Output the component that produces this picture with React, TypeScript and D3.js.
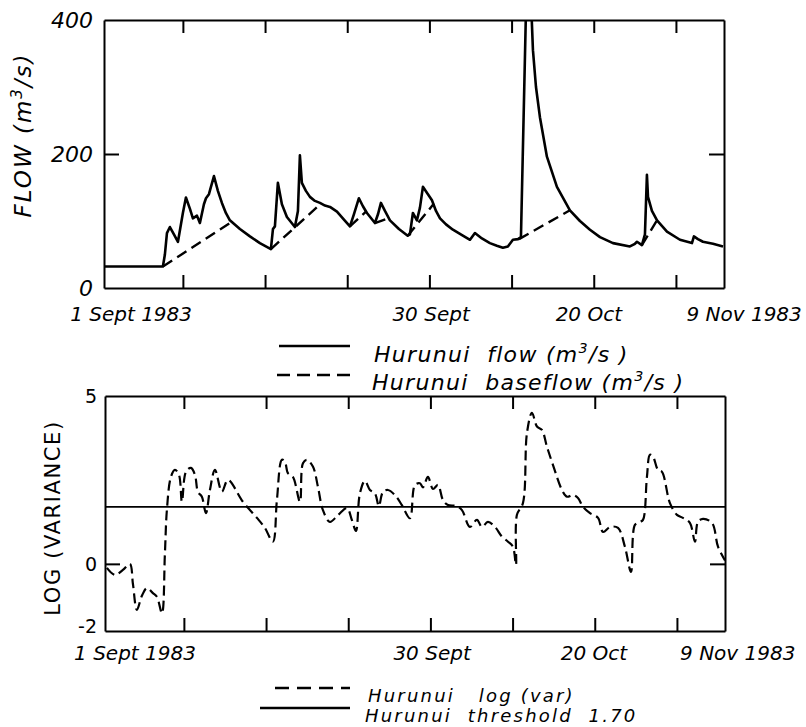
import * as d3 from 'd3';
import React, { useRef, useEffect } from 'react';

const W = 806;
const H = 727;

// x axis in days counted from 1 Sept 1983
const dayDomain = [0.4, 75.85];
const gridDays = [10, 20, 30, 40, 50, 60, 70];
const dateLabels = ['1 Sept 1983', '30 Sept', '20 Oct', '9 Nov 1983'];
const flowLabelDays = [3.7, 40.2, 59.4, 78.3];
const varLabelDays = [4.05, 40.2, 59.9, 77.4];

const flowTickLabels = [0, 200, 400];
const varTickLabels = [-2, 0, 5];

// Hurunui flow (m3/s)
const flowDays = [
  0.39, 7.57, 7.81, 8.06, 8.42, 8.91, 9.4, 10.0, 10.37, 10.86, 11.22, 11.71, 12.07, 12.56, 12.81, 13.17,
  13.78, 14.26, 14.75, 15.23, 15.72, 16.94, 18.16, 19.37, 20.71, 20.96, 21.2, 21.56, 22.05, 22.66, 23.63,
  24.0, 24.24, 24.48, 24.97, 25.46, 26.07, 26.68, 27.29, 27.9, 28.75, 29.6, 30.33, 30.81, 31.42, 31.91,
  32.4, 33.37, 33.74, 34.1, 34.59, 35.2, 36.29, 37.36, 37.63, 37.99, 38.48, 38.85, 39.21, 39.82, 40.31,
  40.8, 41.29, 42.02, 42.86, 43.97, 44.94, 45.54, 46.39, 47.36, 48.21, 48.94, 49.55, 50.16, 50.78, 51.14,
  51.87, 52.36, 52.6, 52.97, 53.45, 54.3, 55.52, 57.1, 58.32, 59.54, 60.76, 62.34, 64.4, 65.01, 65.26,
  65.86, 66.23, 66.47, 66.6, 67.08, 67.7, 68.91, 70.49, 71.95, 72.19, 72.68, 73.29, 74.51, 75.73,
];
const flowValues = [
  32, 32, 50, 82, 91, 80, 69, 112, 135, 118, 104, 108, 97, 125, 134, 140,
  167, 145, 127, 112, 101, 88, 77, 67, 58, 88, 92, 157, 125, 106, 91,
  115, 198, 157, 145, 136, 130, 127, 123, 121, 114, 102, 92, 110, 134, 122,
  112, 97, 110, 127, 115, 101, 88, 78, 80, 112, 101, 120, 151, 140, 131,
  115, 104, 95, 87, 79, 72, 82, 74, 67, 63, 60, 62, 72, 73, 76,
  480, 430, 355, 300, 255, 196, 151, 116, 100, 87, 76, 67, 62, 66, 69,
  64, 80, 169, 136, 115, 101, 84, 72, 67, 77, 73, 69, 66, 62,
];

// Hurunui baseflow (m3/s), null separates the separated pieces
const baseDays = [
  7.57, 16.0, null, 20.71, 26.44, null, 30.33, 32.28, null, 33.37, 34.95, null,
  37.36, 40.55, null, 50.9, 57.1, null, 65.86, 67.7,
];
const baseValues = [
  32, 99, null, 58, 122, null, 92, 114, null, 97, 104, null,
  78, 126, null, 73, 116, null, 64, 101,
];

// Hurunui log (var)
const varDays = [
  0.63, 1.61, 2.58, 3.43, 3.8, 4.28, 4.89, 5.5, 6.23, 6.72, 7.33, 7.69, 7.93, 8.42, 8.91, 9.4, 9.76,
  10.25, 10.86, 11.35, 11.71, 12.19, 12.68, 13.17, 13.78, 14.63, 15.36, 17.18, 18.89, 19.86, 20.83,
  21.32, 21.93, 22.29, 22.66, 23.27, 24.12, 24.49, 24.97, 25.7, 26.31, 26.92, 27.77, 28.75, 29.84,
  30.45, 30.94, 31.42, 32.03, 32.64, 33.25, 33.73, 34.22, 34.83, 35.68, 36.53, 37.51, 38.12, 38.73,
  39.09, 39.7, 40.31, 40.92, 41.53, 42.14, 43.22, 43.84, 44.81, 45.66, 46.27, 47.0, 47.86, 48.71,
  49.44, 50.04, 50.41, 50.53, 51.26, 51.75, 52.36, 52.97, 53.57, 54.18, 54.91, 56.01, 56.62, 57.35,
  57.96, 58.57, 59.42, 60.4, 61.01, 61.86, 62.83, 63.67, 64.41, 64.89, 65.5, 65.87, 66.35, 66.72,
  67.08, 67.69, 68.18, 69.15, 70.0, 70.73, 71.58, 72.19, 72.56, 73.17, 74.27, 75.0, 75.85,
];
const varValues = [
  -0.12, -0.33, -0.18, 0.0, -0.6, -1.37, -0.95, -0.72, -0.87, -0.98, -1.47, 0.3, 1.6, 2.59, 2.8, 2.65, 1.85,
  2.74, 2.86, 2.65, 2.14, 2.0, 1.51, 2.2, 2.8, 2.15, 2.5, 1.85, 1.37, 1.07, 0.66,
  1.9, 3.1, 3.05, 2.7, 2.59, 1.85, 3.0, 3.1, 2.9, 2.3, 1.6, 1.25, 1.45, 1.66,
  1.3, 0.98, 2.1, 2.47, 2.2, 2.1, 1.72, 2.14, 2.2, 2.05, 1.75, 1.36, 2.35, 2.4,
  2.28, 2.59, 2.23, 2.35, 1.9, 1.75, 1.72, 1.6, 1.1, 1.31, 1.1, 1.25, 1.1, 0.81,
  0.66, 0.51, -0.03, 1.46, 1.81, 3.9, 4.5, 4.09, 3.99, 3.49, 2.95, 2.2, 2.0, 2.05,
  1.96, 1.7, 1.51, 1.37, 0.95, 1.1, 1.07, 0.51, -0.24, 1.16, 1.25, 1.31, 2.59, 3.25,
  3.2, 2.8, 2.74, 1.81, 1.46, 1.37, 1.22, 0.66, 1.25, 1.34, 1.22, 0.51, 0.1,
];
const threshold = 1.7;

const FONT = "'DejaVu Sans', sans-serif";

const App = () => {
  const ref = useRef<SVGSVGElement>(null);

  const draw = () => {
    const svg = d3.select(ref.current);
    svg.selectAll('*').remove();

    const xTop = d3.scaleLinear().domain(dayDomain).range([104, 724]);
    const yTop = d3.scaleLinear().domain([0, 400]).range([288, 20]);
    const xBot = d3.scaleLinear().domain(dayDomain).range([105, 725]);
    const yBot = d3.scaleLinear().domain([-2, 5]).range([631, 396]);

    // frame with inward ticks on all four sides
    const frame = (x, y, yMark) => {
      const g = svg.append('g');
      const [y0, y1] = y.range();
      const [x0, x1] = x.range();
      const noLabel = () => '';
      g.append('g').attr('transform', `translate(0,${y0})`)
        .call(d3.axisBottom(x).tickValues(gridDays).tickSize(-13).tickSizeOuter(0).tickFormat(noLabel));
      g.append('g').attr('transform', `translate(0,${y1})`)
        .call(d3.axisTop(x).tickValues(gridDays).tickSize(-13).tickSizeOuter(0).tickFormat(noLabel));
      g.append('g').attr('transform', `translate(${x0},0)`)
        .call(d3.axisLeft(y).tickValues([yMark]).tickSize(-15).tickSizeOuter(0).tickFormat(noLabel));
      g.append('g').attr('transform', `translate(${x1},0)`)
        .call(d3.axisRight(y).tickValues([yMark]).tickSize(-15).tickSizeOuter(0).tickFormat(noLabel));
      g.selectAll('path.domain').attr('stroke', '#000').attr('stroke-width', 2);
      g.selectAll('.tick line').attr('stroke', '#000').attr('stroke-width', 2);
      return g;
    };

    frame(xTop, yTop, 200);
    frame(xBot, yBot, 0);

    // y tick labels
    svg.append('g').selectAll('text').data(flowTickLabels).join('text')
      .attr('x', 93).attr('y', (d) => yTop(d) + 8)
      .attr('text-anchor', 'end').attr('font-family', FONT).attr('font-style', 'italic')
      .attr('font-size', 22).text((d) => d);
    svg.append('g').selectAll('text').data(varTickLabels).join('text')
      .attr('x', 97).attr('y', (d) => yBot(d) + (d === -2 ? 2 : 7))
      .attr('text-anchor', 'end').attr('font-family', FONT)
      .attr('font-size', 19).text((d) => d);

    // date labels
    svg.append('g').selectAll('text').data(dateLabels).join('text')
      .attr('x', (d, i) => xTop(flowLabelDays[i])).attr('y', 321)
      .attr('text-anchor', 'middle').attr('font-family', FONT).attr('font-style', 'italic')
      .attr('font-size', 20).text((d) => d);
    svg.append('g').selectAll('text').data(dateLabels).join('text')
      .attr('x', (d, i) => xBot(varLabelDays[i])).attr('y', 660)
      .attr('text-anchor', 'middle').attr('font-family', FONT).attr('font-style', 'italic')
      .attr('font-size', 20).text((d) => d);

    // axis titles
    const t1 = svg.append('text')
      .attr('transform', 'translate(31,135) rotate(-90)')
      .attr('text-anchor', 'middle').attr('font-family', FONT).attr('font-style', 'italic')
      .attr('font-size', 23).attr('letter-spacing', 2);
    t1.append('tspan').text('FLOW (m');
    t1.append('tspan').attr('dy', -9).attr('font-size', 15).text('3');
    t1.append('tspan').attr('dy', 9).text('/s)');

    svg.append('text')
      .attr('transform', 'translate(60,518) rotate(-90)')
      .attr('text-anchor', 'middle').attr('font-family', FONT)
      .attr('font-size', 21).attr('letter-spacing', 1.6)
      .text('LOG (VARIANCE)');

    // clip regions
    const defs = svg.append('defs');
    defs.append('clipPath').attr('id', 'clipTop').append('rect')
      .attr('x', 104).attr('y', 20).attr('width', 620).attr('height', 268);
    defs.append('clipPath').attr('id', 'clipBot').append('rect')
      .attr('x', 105).attr('y', 396).attr('width', 620).attr('height', 235);

    const flowLine = d3.line<number>()
      .x((d, i) => xTop(flowDays[i])).y((d) => yTop(d));
    svg.append('path').attr('clip-path', 'url(#clipTop)')
      .attr('d', flowLine(flowValues))
      .attr('fill', 'none').attr('stroke', '#000').attr('stroke-width', 2.6)
      .attr('stroke-linejoin', 'round');

    const baseLine = d3.line<number | null>()
      .defined((d) => d !== null)
      .x((d, i) => xTop(baseDays[i] as number)).y((d) => yTop(d as number));
    svg.append('path').attr('clip-path', 'url(#clipTop)')
      .attr('d', baseLine(baseValues))
      .attr('fill', 'none').attr('stroke', '#000').attr('stroke-width', 2.4)
      .attr('stroke-dasharray', '11,6');

    svg.append('line')
      .attr('x1', xBot.range()[0]).attr('x2', xBot.range()[1])
      .attr('y1', yBot(threshold)).attr('y2', yBot(threshold))
      .attr('stroke', '#000').attr('stroke-width', 1.8);

    const varLine = d3.line<number>()
      .x((d, i) => xBot(varDays[i])).y((d) => yBot(d))
      .curve(d3.curveCatmullRom.alpha(0.5));
    svg.append('path').attr('clip-path', 'url(#clipBot)')
      .attr('d', varLine(varValues))
      .attr('fill', 'none').attr('stroke', '#000').attr('stroke-width', 2.2)
      .attr('stroke-dasharray', '10,5');

    // legends
    const legendRow = (lx1, lx2, ly, dash, tx, ty, size, spacing, parts) => {
      svg.append('line').attr('x1', lx1).attr('x2', lx2).attr('y1', ly).attr('y2', ly)
        .attr('stroke', '#000').attr('stroke-width', 2.4)
        .attr('stroke-dasharray', dash);
      const t = svg.append('text').attr('x', tx).attr('y', ty)
        .attr('font-family', FONT).attr('font-style', 'italic').attr('font-size', size)
        .attr('letter-spacing', spacing)
        .style('white-space', 'pre');
      parts.forEach(([s, sup]) => {
        if (sup) {
          t.append('tspan').attr('dy', -9).attr('font-size', size * 0.65).text(s);
        } else {
          t.append('tspan').attr('dy', t.selectAll('tspan').size() ? 9 : 0).text(s);
        }
      });
    };

    legendRow(279, 350, 346, null, 374, 353, 22, 1.3,
      [['Hurunui  flow (m', false], ['3', true], ['/s )', false]]);
    legendRow(277, 350, 375, '13,7', 372, 381, 22, 1.3,
      [['Hurunui  baseflow (m', false], ['3', true], ['/s )', false]]);
    legendRow(275, 350, 688, '14,8', 368, 693, 18, 2.2,
      [['Hurunui   log (var)', false]]);
    legendRow(260, 350, 708, null, 365, 713, 18, 2.2,
      [['Hurunui  threshold  1.70', false]]);
  };

  useEffect(() => {
    draw();
  }, []);

  return (
    <svg
      ref={ref}
      width={W}
      height={H}
      style={{ position: 'absolute', left: 0, top: 0, background: '#fff' }}
    />
  );
};

export default App;
